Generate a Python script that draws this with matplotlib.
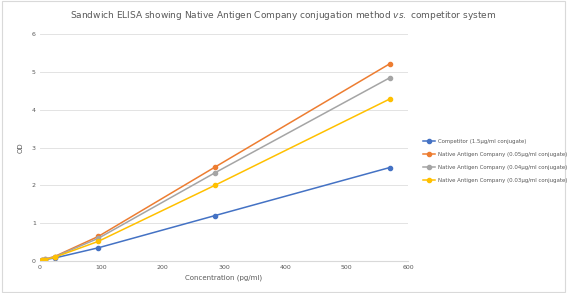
import matplotlib.pyplot as plt

conc = [2.6, 7.9, 23.75, 95, 285, 570]
competitor = [0.02, 0.04, 0.08, 0.35, 1.2, 2.47]
nac_005 = [0.02, 0.05, 0.12, 0.65, 2.48, 5.21]
nac_004 = [0.02, 0.05, 0.11, 0.60, 2.33, 4.84]
nac_003 = [0.02, 0.04, 0.10, 0.52, 2.00, 4.28]

labels = ['Competitor (1.5\u00b5g/ml conjugate)',
          'Native Antigen Company (0.05\u00b5g/ml conjugate)',
          'Native Antigen Company (0.04\u00b5g/ml conjugate)',
          'Native Antigen Company (0.03\u00b5g/ml conjugate)']
colors = ['#4472C4', '#ED7D31', '#A5A5A5', '#FFC000']

fig = plt.figure(figsize=(5.67, 2.93), dpi=100)
ax = fig.add_axes([0.0705, 0.109, 0.649, 0.775])

for ys, lab, c in zip([competitor, nac_005, nac_004, nac_003], labels, colors):
    ax.plot(conc, ys, color=c, marker='o', markersize=3, linewidth=1.1, label=lab)

ax.set_xlim(0, 600)
ax.set_ylim(0, 6)
ax.set_xticks(range(0, 601, 100))
ax.set_yticks(range(0, 7))
ax.grid(axis='y', color='#e3e3e3', linewidth=0.7)
ax.set_axisbelow(True)
for s in ['top', 'right', 'left']:
    ax.spines[s].set_visible(False)
ax.spines['bottom'].set_color('#d9d9d9')
ax.tick_params(axis='both', length=0, labelsize=4.5, labelcolor='#595959', pad=3)
ax.set_xlabel('Concentration (pg/ml)', fontsize=5, color='#595959', labelpad=3)
ax.set_ylabel('OD', fontsize=5, color='#595959', labelpad=6)

fig.text(0.5, 0.948, 'Sandwich ELISA showing Native Antigen Company conjugation method $\\it{vs.}$ competitor system',
         ha='center', va='center', fontsize=6.5, color='#595959')

fig.legend(loc='center left', bbox_to_anchor=(0.738, 0.45), frameon=False,
           fontsize=3.9, labelcolor='#595959', handlelength=2.2, handletextpad=0.5,
           labelspacing=1.5)

fig.patches.append(plt.Rectangle((0.003, 0.003), 0.994, 0.994, transform=fig.transFigure,
                                 fill=False, edgecolor='#d9d9d9', linewidth=0.8))

fig.savefig('out.png', dpi=100)
